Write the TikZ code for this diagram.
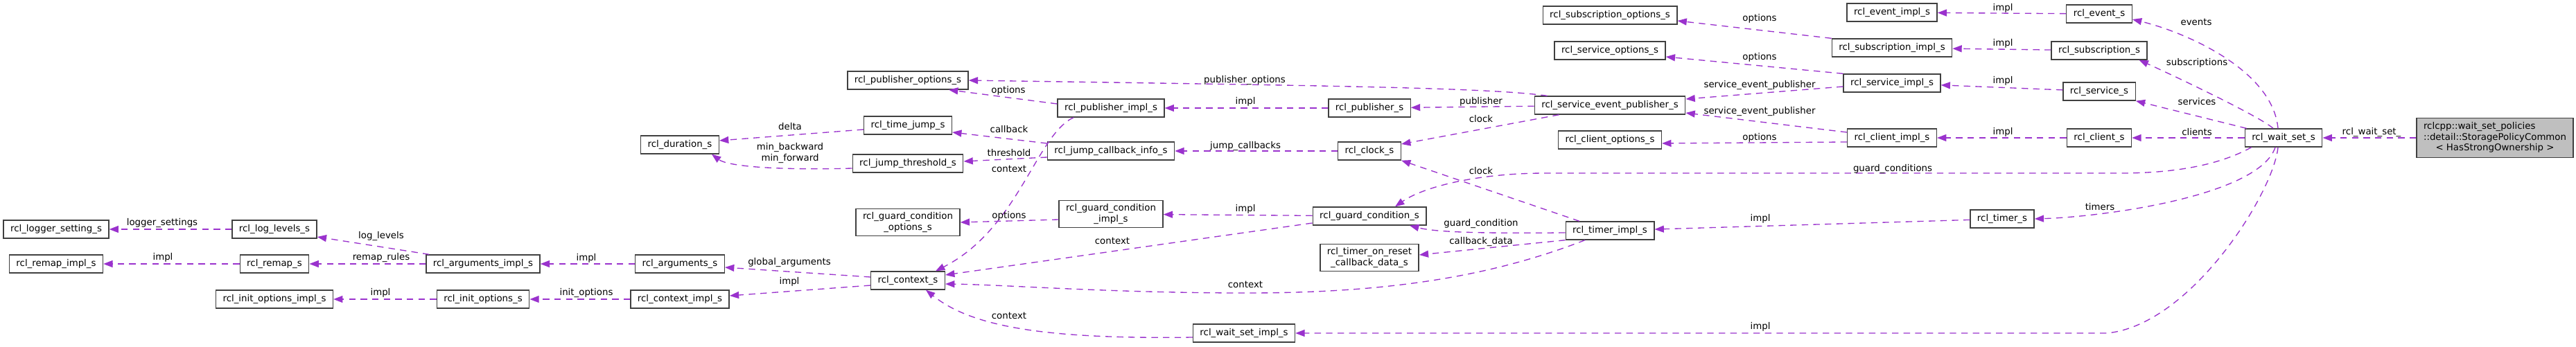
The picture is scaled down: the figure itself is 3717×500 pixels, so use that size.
\documentclass[tikz,border=0pt]{standalone}
\usepackage{fontspec}
\setmainfont{DejaVu Sans}
\usetikzlibrary{arrows.meta}
\definecolor{relcol}{HTML}{9A32CD}
\definecolor{boxline}{HTML}{404040}
\definecolor{ownerfill}{HTML}{BFBFBF}
\begin{document}
\begin{tikzpicture}[x=0.75pt,y=-0.75pt,
	struct/.style={draw=boxline,fill=white,line width=1pt,inner xsep=7.5pt,inner ysep=4pt,
		minimum height=19.5pt,align=center,font=\fontsize{10}{11.5}\selectfont},
	owner/.style={struct,fill=ownerfill},
	rel/.style={draw=relcol,line width=1pt,dash pattern=on 7pt off 5.5pt,
		-{Triangle[length=10pt,width=7.5pt]}},
	lbl/.style={inner sep=0pt,align=center,font=\fontsize{10}{11.5}\selectfont}]
	\useasboundingbox (0,0) rectangle (3717,500);
	\node (loggersetting) at (81,331) [struct] {rcl\_logger\_setting\_s};
	\node (loglevels) at (396,331) [struct] {rcl\_log\_levels\_s};
	\node (remapimpl) at (81,381) [struct] {rcl\_remap\_impl\_s};
	\node (remap) at (396,381) [struct] {rcl\_remap\_s};
	\node (initoptsimpl) at (396,432) [struct] {rcl\_init\_options\_impl\_s};
	\node (argsimpl) at (697,381) [struct] {rcl\_arguments\_impl\_s};
	\node (initopts) at (697,432) [struct] {rcl\_init\_options\_s};
	\node (args) at (981,381) [struct] {rcl\_arguments\_s};
	\node (contextimpl) at (981,432) [struct] {rcl\_context\_impl\_s};
	\node (duration) at (981,209) [struct] {rcl\_duration\_s};
	\node (puboptions) at (1310,116) [struct] {rcl\_publisher\_options\_s};
	\node (timejump) at (1310,181) [struct] {rcl\_time\_jump\_s};
	\node (jumpthreshold) at (1310,236) [struct] {rcl\_jump\_threshold\_s};
	\node (gcoptions) at (1310,321) [struct] {rcl\_guard\_condition\\\_options\_s};
	\node (context) at (1310,405) [struct] {rcl\_context\_s};
	\node (pubimpl) at (1603,156) [struct] {rcl\_publisher\_impl\_s};
	\node (jumpcb) at (1603,218) [struct] {rcl\_jump\_callback\_info\_s};
	\node (gcimpl) at (1603,309) [struct] {rcl\_guard\_condition\\\_impl\_s};
	\node (waitsetimpl) at (1795,481) [struct] {rcl\_wait\_set\_impl\_s};
	\node (publisher) at (1976,156) [struct] {rcl\_publisher\_s};
	\node (clock) at (1976,218) [struct] {rcl\_clock\_s};
	\node (guardcond) at (1976,312) [struct] {rcl\_guard\_condition\_s};
	\node (timerreset) at (1976,372) [struct] {rcl\_timer\_on\_reset\\\_callback\_data\_s};
	\node (subopts) at (2323,22) [struct] {rcl\_subscription\_options\_s};
	\node (srvopts) at (2323,73) [struct] {rcl\_service\_options\_s};
	\node (srvevpub) at (2323,152) [struct] {rcl\_service\_event\_publisher\_s};
	\node (cliopts) at (2323,202) [struct] {rcl\_client\_options\_s};
	\node (timerimpl) at (2323,333) [struct] {rcl\_timer\_impl\_s};
	\node (eventimpl) at (2730,18) [struct] {rcl\_event\_impl\_s};
	\node (subimpl) at (2730,69) [struct] {rcl\_subscription\_impl\_s};
	\node (srvimpl) at (2730,120) [struct] {rcl\_service\_impl\_s};
	\node (cliimpl) at (2730,199) [struct] {rcl\_client\_impl\_s};
	\node (timer) at (2889,316) [struct] {rcl\_timer\_s};
	\node (event) at (3029,20) [struct] {rcl\_event\_s};
	\node (sub) at (3029,73) [struct] {rcl\_subscription\_s};
	\node (srv) at (3029,132) [struct] {rcl\_service\_s};
	\node (cli) at (3029,199) [struct] {rcl\_client\_s};
	\node (waitset) at (3295,199) [struct] {rcl\_wait\_set\_s};
	\node (storage) at (3600,199) [owner] {\begin{tabular}{@{}l@{}}
		rclcpp::wait\_set\_policies\\
		::detail::StoragePolicyCommon\\
		\multicolumn{1}{@{}c@{}}{< HasStrongOwnership >}
	\end{tabular}};
	\draw[rel] (storage) -- (waitset) node[lbl] at (3422,191) {rcl\_wait\_set\_};
	\draw[rel] ([shift={(-8,0)}]waitset.north) .. controls +(-8,-85) and +(75,18) .. ([shift={(0,8)}]event.east) node[lbl] at (3169,32) {events};
	\draw[rel] ([shift={(-15,0)}]waitset.north) .. controls +(-20,-18) and +(40,18) .. ([shift={(-12,0)}]sub.south east) node[lbl] at (3170,91) {subscriptions};
	\draw[rel] ([shift={(3,0)}]waitset.north west) -- (srv.south east) node[lbl] at (3170,147) {services};
	\draw[rel] (waitset) -- (cli) node[lbl] at (3170,191) {clients};
	\draw[rel] ([shift={(10,0)}]waitset.south west) .. controls +(-45,25) and +(80,0) .. (3060,250) -- (2230,250) .. controls +(-100,0) and +(40,-28) .. ([shift={(37,0)}]guardcond.north) node[lbl] at (2731,244) {guard\_conditions};
	\draw[rel] ([shift={(-12,0)}]waitset.south) .. controls +(-23,70) and +(100,-3) .. (timer.east) node[lbl] at (3030,299) {timers};
	\draw[rel] ([shift={(-8,0)}]waitset.south) .. controls (3280,280) and (3160,470) .. (3040,481) -- (waitsetimpl.east) node[lbl] at (2540,472) {impl};
	\draw[rel] (event) -- (eventimpl) node[lbl] at (2890,12) {impl};
	\draw[rel] (sub) -- (subimpl) node[lbl] at (2890,63) {impl};
	\draw[rel] (srv) -- (srvimpl) node[lbl] at (2890,117) {impl};
	\draw[rel] (cli) -- (cliimpl) node[lbl] at (2890,191) {impl};
	\draw[rel] (timer) -- (timerimpl) node[lbl] at (2540,316) {impl};
	\draw[rel] (subimpl.north west) -- ([shift={(0,8)}]subopts.east) node[lbl] at (2539,27) {options};
	\draw[rel] (srvimpl.north west) -- ([shift={(0,9)}]srvopts.east) node[lbl] at (2539,83) {options};
	\draw[rel] ([shift={(0,5)}]srvimpl.west) -- ([shift={(0,-9)}]srvevpub.east) node[lbl] at (2539,123) {service\_event\_publisher};
	\draw[rel] ([shift={(0,-8)}]cliimpl.west) -- ([shift={(0,11)}]srvevpub.east) node[lbl] at (2539,161) {service\_event\_publisher};
	\draw[rel] ([shift={(0,6)}]cliimpl.west) -- ([shift={(0,5)}]cliopts.east) node[lbl] at (2539,199) {options};
	\draw[rel] ([shift={(19,0)}]srvevpub.north west) .. controls (2150,127) and (1950,124) .. (puboptions.east) node[lbl] at (1796,116) {publisher\_options};
	\draw[rel] (srvevpub) -- (publisher) node[lbl] at (2137,147) {publisher};
	\draw[rel] ([shift={(36,0)}]srvevpub.south west) -- ([shift={(0,-10)}]clock.east) node[lbl] at (2137,172) {clock};
	\draw[rel] ([shift={(-44,0)}]timerimpl.north) -- (clock.south east) node[lbl] at (2137,247) {clock};
	\draw[rel] ([shift={(0,3)}]timerimpl.west) .. controls (2150,337) and (2075,336) .. ([shift={(58,0)}]guardcond.south) node[lbl] at (2137,323) {guard\_condition};
	\draw[rel] (timerimpl.south west) -- ([shift={(0,-4)}]timerreset.east) node[lbl] at (2137,349) {callback\_data};
	\draw[rel] ([shift={(-36,0)}]timerimpl.south) .. controls (2150,400) and (2000,423) .. (1800,423) .. controls (1600,423) and (1450,411) .. ([shift={(0,5)}]context.east) node[lbl] at (1797,411) {context};
	\draw[rel] (publisher) -- (pubimpl) node[lbl] at (1797,147) {impl};
	\draw[rel] (clock) -- (jumpcb) node[lbl] at (1797,211) {jump\_callbacks};
	\draw[rel] (guardcond) -- (gcimpl) node[lbl] at (1797,302) {impl};
	\draw[rel] ([shift={(0,10)}]guardcond.west) -- ([shift={(0,-8)}]context.east) node[lbl] at (1605,348) {context};
	\draw[rel] ([shift={(0,6)}]waitsetimpl.west) .. controls (1500,490) and (1400,470) .. ([shift={(26,0)}]context.south) node[lbl] at (1456,456) {context};
	\draw[rel] ([shift={(0,-6)}]pubimpl.west) -- ([shift={(59,0)}]puboptions.south) node[lbl] at (1455,131) {options};
	\draw[rel] ([shift={(-54,0)}]pubimpl.south) .. controls (1495,195) and (1470,330) .. ([shift={(40,0)}]context.north) node[lbl] at (1456,244) {context};
	\draw[rel] ([shift={(0,-11)}]jumpcb.west) -- ([shift={(0,10)}]timejump.east) node[lbl] at (1456,187) {callback};
	\draw[rel] ([shift={(0,9)}]jumpcb.west) -- ([shift={(0,-3)}]jumpthreshold.east) node[lbl] at (1456,221) {threshold};
	\draw[rel] ([shift={(0,8)}]gcimpl.west) -- (gcoptions.east) node[lbl] at (1456,312) {options};
	\draw[rel] ([shift={(0,6)}]timejump.west) -- ([shift={(0,-6)}]duration.east) node[lbl] at (1140,183) {delta};
	\draw[rel] ([shift={(0,7)}]jumpthreshold.west) .. controls (1120,246) and (1050,240) .. ([shift={(46,0)}]duration.south) node[lbl] at (1140,221) {min\_backward\\min\_forward};
	\draw[rel] ([shift={(0,-5)}]context.west) -- ([shift={(0,5)}]args.east) node[lbl] at (1139,379) {global\_arguments};
	\draw[rel] ([shift={(0,7)}]context.west) -- ([shift={(0,-5)}]contextimpl.east) node[lbl] at (1139,407) {impl};
	\draw[rel] (args) -- (argsimpl) node[lbl] at (846,373) {impl};
	\draw[rel] (contextimpl) -- (initopts) node[lbl] at (846,423) {init\_options};
	\draw[rel] ([shift={(5,0)}]argsimpl.north west) -- ([shift={(0,11)}]loglevels.east) node[lbl] at (550,341) {log\_levels};
	\draw[rel] (argsimpl) -- (remap) node[lbl] at (550,372) {remap\_rules};
	\draw[rel] (initopts) -- (initoptsimpl) node[lbl] at (549,423) {impl};
	\draw[rel] (loglevels) -- (loggersetting) node[lbl] at (234,322) {logger\_settings};
	\draw[rel] (remap) -- (remapimpl) node[lbl] at (235,372) {impl};
\end{tikzpicture}
\end{document}
